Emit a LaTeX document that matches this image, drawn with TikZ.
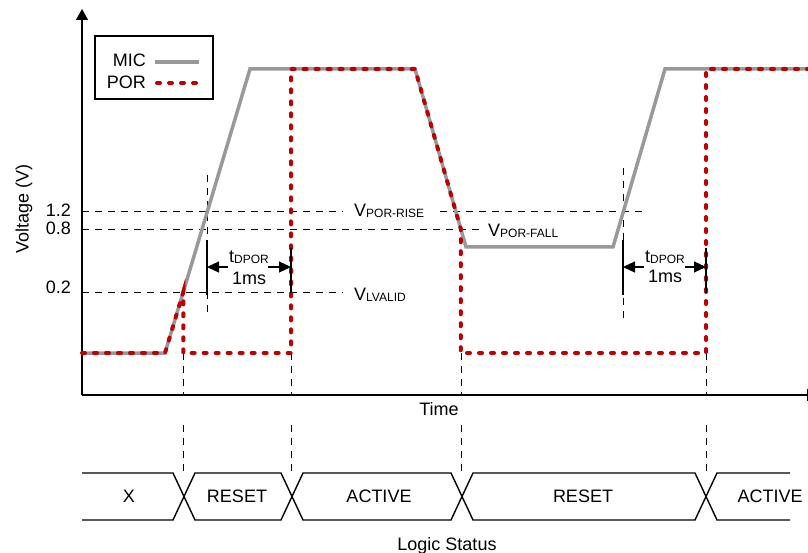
\documentclass[tikz,border=0pt]{standalone}
\usepackage{fontspec}
\setmainfont{Liberation Sans}
\usetikzlibrary{arrows.meta}
\definecolor{micgray}{RGB}{153,153,153}
\definecolor{porred}{RGB}{192,0,0}
\newcommand{\sbs}[1]{\raisebox{-1pt}{\fontsize{12}{14}\selectfont #1}}
\begin{document}
\begin{tikzpicture}[x=1pt,y=-1pt,
  lbl/.style={font=\fontsize{18}{20}\selectfont, inner sep=0pt},
  mic/.style={draw=micgray, line width=3.5pt, line join=miter},
  por/.style={draw=porred, line width=4pt, line cap=round, dash pattern=on 3pt off 9pt},
  guide/.style={draw=black, line width=0.9pt, dash pattern=on 7pt off 6pt},
  extline/.style={draw=black, line width=1.1pt},
  dimarrow/.style={draw=black, line width=1.1pt, -{Triangle[length=12pt,width=11pt]}},
  axis/.style={draw=black, line width=1.2pt, -{Triangle[length=11pt,width=12pt]}},
  bus/.style={draw=black, line width=1.4pt, line join=miter}]
\clip (0,0) rectangle (808,553);
\fill[white] (0,0) rectangle (808,553);

% axes
\coordinate (O) at (82,395);
\coordinate (ytop) at (82,9);
\coordinate (xend) at (818,395);
\draw[axis] (O) -- (ytop);
\draw[axis] (O) -- (xend);

% axis labels
\node[lbl, rotate=90] (vlab) at (24,209) {Voltage (V)};
\node[lbl, anchor=base east] (t12) at (71,217) {1.2};
\node[lbl, anchor=base east] (t08) at (71,235) {0.8};
\node[lbl, anchor=base east] (t02) at (71,294) {0.2};
\node[lbl, anchor=base] (tlab) at (439,415) {Time};

% threshold guides
\draw[guide] (82,211) -- (343,211);
\draw[guide] (440,211) -- (645,211);
\draw[guide] (82,229) -- (483,229);
\draw[guide] (82,292) -- (343,292);
\node[lbl, anchor=base west] (vrise) at (354,217) {V\sbs{POR-RISE}};
\node[lbl, anchor=base west] (vfall) at (488,237) {V\sbs{POR-FALL}};
\node[lbl, anchor=base west] (vvalid) at (354,300) {V\sbs{LVALID}};

% vertical guides for tDPOR
\draw[guide] (207,175) -- (207,318);
\draw[guide] (623,168) -- (623,318);

% drop lines to logic status
\foreach \xx in {183.3,291,461,706}{
  \draw[guide] (\xx,353) -- (\xx,395);
  \draw[guide] (\xx,425) -- (\xx,476);
}

% waveforms
\draw[mic] (82,353) -- (165,353) -- (250,69) -- (415,69) -- (466,247) -- (613,247) -- (665,69) -- (815,69);
\draw[por] (82,353) -- (165,353) -- (183.3,292) -- (183.3,353) -- (291,353) -- (291,69) -- (415,69) -- (460.8,229) -- (460.8,353) -- (706,353) -- (706,69) -- (815,69);

% tDPOR dimensions
\draw[extline] (207,240) -- (207,295);
\draw[extline] (291,248) -- (291,293);
\draw[dimarrow] (228,267) -- (207,267);
\draw[dimarrow] (268,267) -- (291,267);
\node[lbl, anchor=base west] (td1) at (229,263) {t\sbs{DPOR}};
\node[lbl, anchor=base] (ms1) at (249,284) {1ms};

\draw[extline] (623,240) -- (623,295);
\draw[extline] (706,248) -- (706,293);
\draw[dimarrow] (644,267) -- (623,267);
\draw[dimarrow] (685,267) -- (706,267);
\node[lbl, anchor=base west] (td2) at (645,263) {t\sbs{DPOR}};
\node[lbl, anchor=base] (ms2) at (665,283) {1ms};

% legend
\draw[line width=1.2pt] (95,36) rectangle (213,99);
\node[lbl, anchor=base east] (lmic) at (146,67) {MIC};
\node[lbl, anchor=base east] (lpor) at (146,89) {POR};
\draw[mic] (155,62) -- (199,62);
\draw[por] (157,83) -- (197,83);

% logic status bus
\draw[bus] (82,473) -- (173,473) -- (195,520) -- (281,520) -- (303,473) -- (451,473) -- (473,520) -- (695,520) -- (717,473) -- (790,473);
\draw[bus] (82,520) -- (173,520) -- (195,473) -- (281,473) -- (303,520) -- (451,520) -- (473,473) -- (695,473) -- (717,520) -- (790,520);
\node[lbl, anchor=base] (sx) at (129,502) {X};
\node[lbl, anchor=base] (sr1) at (237,502) {RESET};
\node[lbl, anchor=base] (sa1) at (379,502) {ACTIVE};
\node[lbl, anchor=base] (sr2) at (583,502) {RESET};
\node[lbl, anchor=base] (sa2) at (770,502) {ACTIVE};
\node[lbl, anchor=base] (lstat) at (447,550) {Logic Status};
\end{tikzpicture}
\end{document}
